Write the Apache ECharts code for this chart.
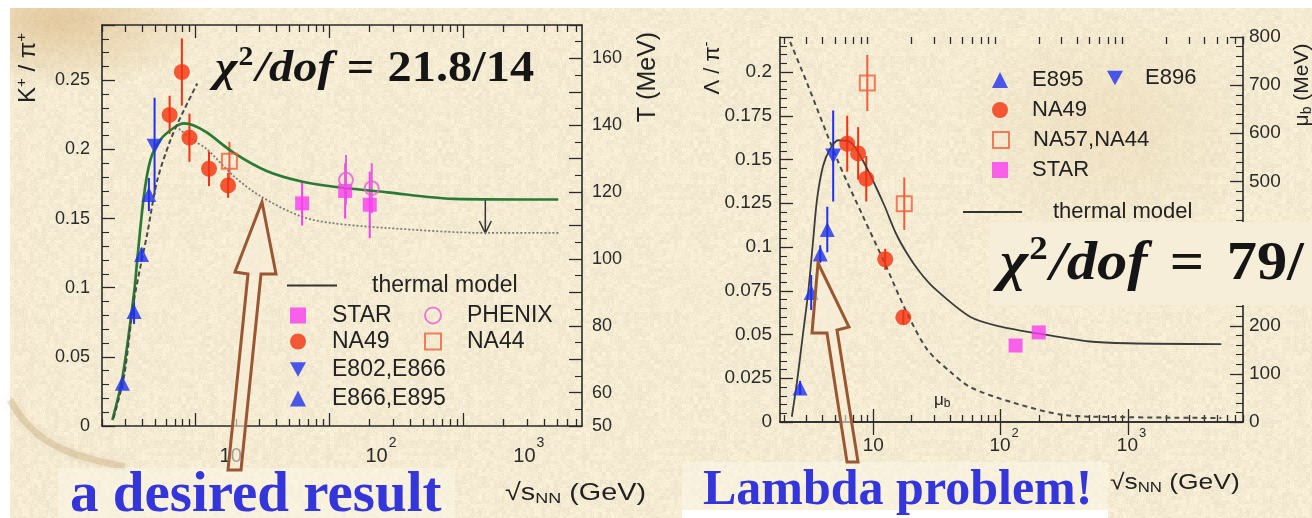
<!DOCTYPE html>
<html>
<head>
<meta charset="utf-8">
<script src="https://cdn.jsdelivr.net/npm/echarts@6/dist/echarts.min.js"></script>
<style>
  html, body { margin: 0; padding: 0; background: #ffffff; }
  #paper { position: absolute; left: 10px; top: 8px; width: 1302px; height: 510px; }
  #chart { position: absolute; left: 0; top: 0; width: 1312px; height: 518px; }
</style>
</head>
<body>
<div id="paper"></div>
<div id="chart"></div>
<script>
// ---------------- K+/pi+ panel: [sqrt(s_NN) GeV, ratio, error] ----------------
const kpiStar   = [[62.5, 0.161, 0.016], [131, 0.170, 0.020], [200, 0.160, 0.024]];
const kpiPhenix = [[133, 0.178, 0.018], [207, 0.172, 0.018]];
const kpiNA49   = [[6.4, 0.225, 0.0138], [7.9, 0.256, 0.0243], [9.0, 0.2085, 0.0174], [12.6, 0.186, 0.0125], [17.5, 0.174, 0.009]];
const kpiNA44   = [[17.9, 0.1915, 0.014]];
const kpiE802   = [[4.94, 0.2024, 0.035]];
const kpiE895   = [[2.84, 0.031, 0.004], [3.47, 0.0828, 0.009], [3.95, 0.124, 0.005], [4.48, 0.1674, 0.012]];
// thermal model curve (ratio), freeze-out temperature curve (MeV), lower dotted curve
const kpiThermal = [[2.39, 0.0043], [2.84, 0.0348], [3.47, 0.096], [3.67, 0.1203], [4.11, 0.1662], [4.61, 0.1928],
  [5.48, 0.2072], [6.89, 0.2157], [8.18, 0.2188], [9.71, 0.2174], [12.2, 0.2121], [19.3, 0.1976], [34.3, 0.1843],
  [60.8, 0.177], [101.6, 0.1734], [269, 0.169], [841, 0.1643], [5120, 0.1638]];
const kpiTemp = [[2.44, 52.4], [2.92, 64.8], [3.47, 87.7], [4.36, 107.7], [5.18, 123.6], [6.5, 135.6], [8.18, 144.5], [10.3, 152.5]];
const kpiDotted = [[7.5, 0.215], [9.5, 0.207], [12.2, 0.2], [19.3, 0.1807], [30.5, 0.1662], [60.8, 0.1517],
  [101.6, 0.1469], [269, 0.1432], [1500, 0.1396], [5250, 0.1396]];
const kpiDrop = [[1460, 0.1638, 0.1396]];   // x, from, to
const kpiXLabels = [10, 100, 1000];

// ---------------- Lambda/pi- panel ----------------
const lpiE895  = [[2.66, 0.0195, 0.004], [3.25, 0.074, 0.01], [3.83, 0.096, 0.005], [4.35, 0.110, 0.013]];
const lpiE896  = [[4.84, 0.152, 0.026]];
const lpiNA49  = [[6.24, 0.159, 0.016], [7.6, 0.1535, 0.015], [8.8, 0.139, 0.013], [12.4, 0.093, 0.006], [17.2, 0.0598, 0.004]];
const lpiNA57  = [[8.97, 0.1937, 0.016], [17.5, 0.1247, 0.015]];
const lpiStar  = [[131, 0.0437, 0], [199, 0.0512, 0]];
const lpiThermal = [[2.29, 0.003], [2.51, 0.0224], [2.81, 0.051], [3.08, 0.074], [3.37, 0.104], [3.62, 0.1276],
  [4.04, 0.1466], [4.58, 0.156], [5.3, 0.161], [6.59, 0.160], [8.34, 0.149], [12, 0.125], [15, 0.108], [18.5, 0.096],
  [23, 0.086], [29.6, 0.077], [58, 0.060], [100, 0.0545], [200, 0.0505], [500, 0.046], [1000, 0.045], [5400, 0.0445]];
const lpiMuB = [[2.22, 790], [3.02, 704], [5.21, 545], [8.34, 426], [12.4, 328], [17.9, 233], [26.6, 150],
  [40.4, 104], [58.1, 72], [126, 40], [313, 14.5], [776, 10.4], [5400, 8.3]];
const lpiXLabels = [10, 100, 1000];

// ---------------- paper background ----------------
function hash(i) {
  i = (i ^ 61) ^ (i >>> 16); i = i + (i << 3); i ^= i >>> 4;
  i = Math.imul(i, 0x27d4eb2d); i ^= i >>> 15; return (i >>> 0) / 4294967295;
}
function paperTexture() {
  const c = document.createElement('canvas'); c.width = 256; c.height = 256;
  const g = c.getContext('2d'); const img = g.createImageData(256, 256);
  for (let y = 0; y < 256; y++) for (let x = 0; x < 256; x++) {
    const n = hash(x + y * 256 + 7) - 0.5;
    const m = hash((x >> 2) + (y >> 2) * 64 + 99991) - 0.5;
    const d = n * 12 + m * 9; const k = (y * 256 + x) * 4;
    img.data[k] = 244 + d; img.data[k + 1] = 235 + d; img.data[k + 2] = 210 + d * 0.9; img.data[k + 3] = 255;
  }
  g.putImageData(img, 0, 0); return c.toDataURL();
}
document.getElementById('paper').style.background =
  'radial-gradient(ellipse 150px 70px at 50px 12px, rgba(205,160,95,0.45), rgba(205,160,95,0)),' +
  'radial-gradient(ellipse 160px 120px at 1100px 120px, rgba(230,205,160,0.35), rgba(230,205,160,0)),' +
  'url(' + paperTexture() + ')';

// ---------------- helpers ----------------
const AX = '#2a2a2a';
const FONT = 'Liberation Sans';
const BLUE = '#1f31ee', RED = '#f3320f', MAG = '#fa3df0', OSQ = '#ef5f3c', PHX = '#e65fd6';

function minorDecades(min, max) {
  const out = [];
  [1, 10, 100, 1000].forEach(d => { for (let k = 2; k <= 9; k++) { const v = k * d; if (v >= min && v <= max) out.push(v); } });
  return out;
}
function logAxes(grid, min, max, labelCfg) {
  const base = { type: 'log', logBase: 10, min, max, gridIndex: grid, splitLine: { show: false }, minorTick: { show: false } };
  const line = { show: true, lineStyle: { color: AX, width: 1.6 } };
  const minor = minorDecades(min, max);
  const tick = (len, vals) => ({ show: true, inside: true, length: len, customValues: vals, lineStyle: { color: AX, width: 1.3 } });
  return [
    Object.assign({}, base, { position: 'bottom', axisLine: line, axisTick: tick(13, kpiXLabels), axisLabel: labelCfg }),
    Object.assign({}, base, { position: 'top', axisLine: line, axisTick: tick(13, kpiXLabels), axisLabel: { show: false } }),
    Object.assign({}, base, { position: 'bottom', axisLine: { show: false }, axisTick: tick(7, minor), axisLabel: { show: false } }),
    Object.assign({}, base, { position: 'top', axisLine: { show: false }, axisTick: tick(7, minor), axisLabel: { show: false } })
  ];
}
function valueAxis(grid, pos, min, max, interval, minorSplit, label) {
  return {
    type: 'value', gridIndex: grid, position: pos, min, max, interval,
    splitLine: { show: false },
    axisLine: { show: true, lineStyle: { color: AX, width: 1.6 } },
    axisTick: { show: true, inside: true, length: 13, lineStyle: { color: AX, width: 1.3 } },
    minorTick: { show: true, splitNumber: minorSplit, length: 7, lineStyle: { color: AX, width: 1.1 } },
    axisLabel: Object.assign({ color: AX, fontFamily: FONT, showMaxLabel: false }, label)
  };
}
function errBars(data, color, xi, yi) {
  return {
    type: 'custom', xAxisIndex: xi, yAxisIndex: yi, data, z: 3, silent: true, encode: { x: 0, y: 1 },
    renderItem(params, api) {
      const x = api.value(0), y = api.value(1), e = api.value(2);
      const a = api.coord([x, y - e]), b = api.coord([x, y + e]);
      return { type: 'line', shape: { x1: a[0], y1: a[1], x2: b[0], y2: b[1] }, style: { stroke: color, lineWidth: 2 } };
    }
  };
}
function markers(name, data, xi, yi, symbol, size, style) {
  return { type: 'scatter', name, xAxisIndex: xi, yAxisIndex: yi, data: data.map(d => [d[0], d[1]]),
    symbol, symbolSize: size, itemStyle: style, z: 4, silent: true };
}
function curve(name, data, xi, yi, lineStyle) {
  return { type: 'line', name, xAxisIndex: xi, yAxisIndex: yi, data, showSymbol: false, symbol: 'none',
    smooth: 0.3, lineStyle, z: 3, silent: true };
}
const DOWN = 'path://M0,0L10,0L5,9Z';
const open = c => ({ color: 'rgba(0,0,0,0)', borderColor: c, borderWidth: 2 });

function legendItem(name, iconCx, cy, textX, font) {
  const s = 16;
  return { show: true, selectedMode: false, orient: 'horizontal', padding: 0, itemGap: 0,
    left: iconCx - s / 2, top: cy - s / 2, itemWidth: s, itemHeight: s, data: [name],
    textStyle: { fontSize: font, color: '#222', fontFamily: FONT, padding: [0, 0, 0, textX - (iconCx + s / 2 + 5)] } };
}
function legendLine(x0, x1, cy, textX, font) {
  return { show: true, selectedMode: false, padding: 0, left: x0, top: cy - 1, itemWidth: x1 - x0, itemHeight: 2,
    data: [{ name: 'thermal model', icon: 'rect', itemStyle: { color: '#333' } }],
    textStyle: { fontSize: font, color: '#222', fontFamily: FONT, padding: [0, 0, 0, textX - x1 - 5] } };
}

// x labels of the left panel start a little right of their decade ticks
const leftXLabel = {
  show: true, customValues: kpiXLabels, margin: 10, color: AX, fontFamily: FONT, hideOverlap: false, align: 'left',
  formatter: v => v < 50 ? '{o1|10}' : (v < 500 ? '{o2|10}{s|2}' : '{o3|10}{s|3}'),
  rich: {
    o1: { fontSize: 20, color: AX, lineHeight: 40, padding: [0, 0, 0, 24] },
    o2: { fontSize: 20, color: AX, lineHeight: 40, padding: [0, 0, 0, 36] },
    o3: { fontSize: 20, color: AX, lineHeight: 40, padding: [0, 0, 0, 50] },
    s: { fontSize: 14, color: AX, padding: [0, 0, 26, 1] }
  }
};
const rightXLabel = {
  show: true, customValues: lpiXLabels, margin: 4, color: AX, fontFamily: FONT, hideOverlap: false,
  formatter: v => v < 50 ? '{r1|10}' : (v < 500 ? '{r2|10}{s|2}' : '{r2|10}{s|3}'),
  rich: {
    r1: { fontSize: 19, color: AX, lineHeight: 40 },
    r2: { fontSize: 19, color: AX, lineHeight: 40, padding: [0, 0, 0, 7] },
    s: { fontSize: 13, color: AX, padding: [0, 0, 26, 1] }
  }
};

const xAxes = logAxes(0, 2, 7700, leftXLabel).concat(logAxes(1, 1.85, 8000, rightXLabel));
const yAxes = [
  valueAxis(0, 'left', 0, 0.29, 0.05, 5, { fontSize: 18, margin: 12 }),
  valueAxis(0, 'right', 50, 170, 10, 2, { fontSize: 18, margin: 10, showMaxLabel: false,
    formatter: v => { const r = Math.round(v); return (r % 20 === 0 || r === 50) ? String(r) : ''; } }),
  valueAxis(1, 'left', 0, 0.22, 0.025, 5, { fontSize: 19, margin: 8 }),
  valueAxis(1, 'right', 0, 800, 100, 5, { fontSize: 19, margin: 6, showMaxLabel: true })
];

const series = [
  // K+/pi+ panel
  curve('thermal model', kpiThermal, 0, 0, { color: '#2a7a36', width: 2.7 }),
  curve('T', kpiTemp, 0, 1, { color: '#4a4a4a', width: 2, type: [5, 3] }),
  curve('lower', kpiDotted, 0, 0, { color: '#7a7a7a', width: 1.7, type: [2, 2] }),
  {
    type: 'custom', xAxisIndex: 0, yAxisIndex: 0, data: kpiDrop, z: 3, silent: true, encode: { x: 0, y: 1 },
    renderItem(params, api) {
      const a = api.coord([api.value(0), api.value(1)]), b = api.coord([api.value(0), api.value(2)]);
      return { type: 'group', children: [
        { type: 'line', shape: { x1: a[0], y1: a[1], x2: b[0], y2: b[1] }, style: { stroke: '#333', lineWidth: 1.5 } },
        { type: 'polyline', shape: { points: [[b[0] - 6, b[1] - 12], [b[0], b[1]], [b[0] + 6, b[1] - 12]] }, style: { stroke: '#333', lineWidth: 1.5, fill: null } }
      ] };
    }
  },
  errBars(kpiStar, MAG, 0, 0), errBars(kpiPhenix, PHX, 0, 0), errBars(kpiNA49, RED, 0, 0),
  errBars(kpiNA44, OSQ, 0, 0), errBars(kpiE802, BLUE, 0, 0), errBars(kpiE895, BLUE, 0, 0),
  markers('STAR', kpiStar, 0, 0, 'rect', 14, { color: MAG }),
  markers('PHENIX', kpiPhenix, 0, 0, 'circle', 14, open(PHX)),
  markers('NA49', kpiNA49, 0, 0, 'circle', 16, { color: RED }),
  markers('NA44', kpiNA44, 0, 0, 'rect', 15, open(OSQ)),
  markers('E802,E866', kpiE802, 0, 0, DOWN, [16, 15], { color: BLUE }),
  markers('E866,E895', kpiE895, 0, 0, 'triangle', 15, { color: BLUE }),
  // Lambda/pi- panel
  curve('thermal model', lpiThermal, 4, 2, { color: '#3c3c3c', width: 1.8 }),
  curve('muB', lpiMuB, 4, 3, { color: '#4a4a4a', width: 2, type: [5, 4] }),
  errBars(lpiE895, BLUE, 4, 2), errBars(lpiE896, BLUE, 4, 2), errBars(lpiNA49, RED, 4, 2),
  errBars(lpiNA57, OSQ, 4, 2), errBars(lpiStar, MAG, 4, 2),
  markers('E895', lpiE895, 4, 2, 'triangle', 15, { color: BLUE }),
  markers('E896', lpiE896, 4, 2, DOWN, [16, 15], { color: BLUE }),
  markers('NA49', lpiNA49, 4, 2, 'circle', 16, { color: RED }),
  markers('NA57,NA44', lpiNA57, 4, 2, 'rect', 15, open(OSQ)),
  markers('STAR', lpiStar, 4, 2, 'rect', 14, { color: MAG })
];

const legends = [
  legendLine(287, 337, 275, 372, 23),
  legendItem('STAR', 298, 312, 332, 23),
  legendItem('PHENIX', 432, 312, 466, 23),
  legendItem('NA49', 298, 338, 332, 23),
  legendItem('NA44', 432, 338, 466, 23),
  legendItem('E802,E866', 298, 366, 332, 23),
  legendItem('E866,E895', 298, 395, 332, 23),
  legendItem('E895', 1000, 77, 1032, 22),
  legendItem('E896', 1115, 75, 1145, 22),
  legendItem('NA49', 1000, 107, 1032, 22),
  legendItem('NA57,NA44', 1000, 137, 1032, 22),
  legendItem('STAR', 1000, 167, 1032, 22),
  legendLine(963, 1022, 202, 1053, 22)
];

const SANS = { fontFamily: FONT, fill: '#222' };
const sup = (size, raise) => ({ fontSize: size, fontFamily: FONT, fill: '#222', padding: [0, 0, raise, 0] });
const sub = (size, drop) => ({ fontSize: size, fontFamily: FONT, fill: '#222', padding: [drop, 0, 0, 0] });
function mathText(x, y, size, value, eqGap, stretch) {
  const serif = 'Liberation Serif';
  return { type: 'text', x, y, scaleX: stretch, z: 100, silent: true, style: {
    text: '{i|χ}{p|2}{i|/dof}{e|=}{b|' + value + '}', verticalAlign: 'middle', align: 'left',
    rich: {
      i: { fontSize: size, fontFamily: serif, fontStyle: 'italic', fontWeight: 'bold', fill: '#151515' },
      p: { fontSize: Math.round(size * 0.62), fontFamily: serif, fontWeight: 'bold', fill: '#151515', padding: [0, 2, Math.round(size * 0.55), 1] },
      e: { fontSize: size, fontFamily: serif, fontWeight: 'bold', fill: '#151515', padding: [0, eqGap, 0, eqGap] },
      b: { fontSize: size, fontFamily: serif, fontWeight: 'bold', fill: '#151515' }
    } } };
}
function brownArrow(pts) {
  return { type: 'polygon', z: 95, silent: true, shape: { points: pts },
    style: { fill: 'rgba(249,238,216,0.6)', stroke: '#9a5733', lineWidth: 3, lineJoin: 'miter' } };
}

const graphics = [
  // stain ring on the paper
  { type: 'polyline', z: -5, silent: true, shape: { points: [[10, 400], [22, 418], [40, 436], [67, 451], [95, 460], [125, 467]], smooth: 0.4 },
    style: { stroke: 'rgba(160,110,50,0.2)', lineWidth: 7, fill: null, shadowBlur: 10, shadowColor: 'rgba(160,110,50,0.45)' } },
  // text boxes of the slide
  { type: 'rect', z: 90, silent: true, shape: { x: 58, y: 468, width: 397, height: 50 }, style: { fill: 'rgba(251,245,229,0.55)' } },
  { type: 'rect', z: 90, silent: true, shape: { x: 682, y: 462, width: 426, height: 48 }, style: { fill: 'rgba(251,245,229,0.55)' } },
  { type: 'rect', z: 90, silent: true, shape: { x: 682, y: 510, width: 426, height: 8 }, style: { fill: '#ffffff' } },
  { type: 'rect', z: 90, silent: true, shape: { x: 990, y: 222, width: 322, height: 83 }, style: { fill: '#f6eed9' } },
  // annotation arrows
  brownArrow([[262, 202], [276, 274], [261, 274], [241, 470], [228, 470], [248, 274], [235, 272]]),
  brownArrow([[818, 263], [849, 327], [837, 330], [858, 462], [847, 462], [827, 333], [812, 333]]),
  // formulas and captions
  mathText(215, 70, 44, '21.8/14', 12, 1.1),
  mathText(1000, 265, 54, '79/', 20, 1.12),
  { type: 'text', x: 70, y: 496, z: 100, silent: true, style: { text: 'a desired result', font: 'bold 57px "Liberation Serif"', fill: '#3535dc', verticalAlign: 'middle', align: 'left' } },
  { type: 'text', x: 703, y: 491, z: 100, silent: true, style: { text: 'Lambda problem!', font: 'bold 50px "Liberation Serif"', fill: '#3535dc', verticalAlign: 'middle', align: 'left' } },
  // axis titles
  { type: 'text', x: 28, y: 68, rotation: Math.PI / 2, z: 100, silent: true, style: {
    text: '{n|K}{s|+}{n| / π}{s|+}', align: 'center', verticalAlign: 'middle',
    rich: { n: Object.assign({ fontSize: 24 }, SANS), s: sup(15, 12) } } },
  { type: 'text', x: 648, y: 77, rotation: Math.PI / 2, z: 100, silent: true, style: {
    text: 'T (MeV)', align: 'center', verticalAlign: 'middle', fontSize: 25, fontFamily: FONT, fill: '#222' } },
  { type: 'text', x: 713, y: 68, rotation: Math.PI / 2, z: 100, silent: true, style: {
    text: '{n|Λ / π}{s|-}', align: 'center', verticalAlign: 'middle',
    rich: { n: Object.assign({ fontSize: 22 }, SANS), s: sup(15, 12) } } },
  { type: 'text', x: 1302, y: 85, rotation: Math.PI / 2, z: 100, silent: true, style: {
    text: '{n|μ}{b|b}{n| (MeV)}', align: 'center', verticalAlign: 'middle',
    rich: { n: Object.assign({ fontSize: 21 }, SANS), b: sub(14, 10) } } },
  { type: 'text', x: 934, y: 400, z: 100, silent: true, style: {
    text: '{n|μ}{b|b}', align: 'left', verticalAlign: 'middle',
    rich: { n: Object.assign({ fontSize: 17 }, SANS), b: sub(12, 8) } } },
  { type: 'text', x: 505, y: 493, scaleX: 1.2, z: 100, silent: true, style: {
    text: '{n|√s}{b|NN}{n| (GeV)}', align: 'left', verticalAlign: 'middle',
    rich: { n: Object.assign({ fontSize: 24 }, SANS), b: sub(15, 12) } } },
  { type: 'text', x: 1110, y: 483, scaleX: 1.2, z: 100, silent: true, style: {
    text: '{n|√s}{b|NN}{n| (GeV)}', align: 'left', verticalAlign: 'middle',
    rich: { n: Object.assign({ fontSize: 22 }, SANS), b: sub(14, 11) } } }
];

const chart = echarts.init(document.getElementById('chart'), null, { renderer: 'canvas' });
chart.setOption({
  backgroundColor: 'transparent',
  animation: false,
  textStyle: { fontFamily: FONT },
  grid: [
    { left: 102, top: 25, width: 480, height: 401, containLabel: false, outerBoundsMode: 'none' },
    { left: 780, top: 37, width: 463, height: 385, containLabel: false, outerBoundsMode: 'none' }
  ],
  xAxis: xAxes,
  yAxis: yAxes,
  legend: legends,
  series,
  graphic: { elements: graphics }
});
</script>
</body>
</html>
